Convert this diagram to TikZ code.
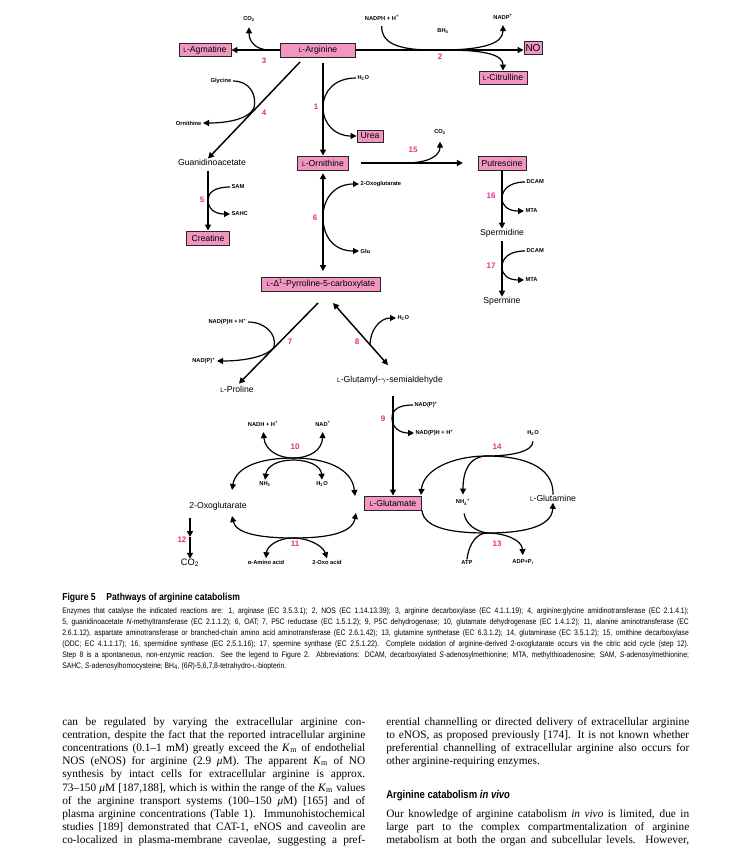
\documentclass[tikz,border=0pt]{standalone}
\usepackage{fontspec}
\setmainfont{Liberation Serif}
\setsansfont{Liberation Sans}
\newfontfamily\capfont[FakeStretch=0.85]{Liberation Sans}
\newfontfamily\headfont[FakeStretch=0.85]{Liberation Sans}
\usepackage{graphicx}
\usetikzlibrary{arrows.meta, positioning}

\definecolor{boxpink}{RGB}{241,150,192}
\definecolor{steppink}{RGB}{233,45,140}
\newcommand{\Ls}{\scalebox{0.75}{L}}
\newcommand{\colline}[1]{\makebox[227.25pt][s]{#1}}
\newcommand{\capline}[1]{\makebox[470pt][s]{#1}}

\begin{document}
\begin{tikzpicture}[x=0.75pt, y=-0.75pt,
  met/.style={draw=black!85, line width=0.7pt, fill=boxpink, inner sep=0pt, minimum height=10.5pt, font=\sffamily\fontsize{6.5}{7}\selectfont},
  cpd/.style={inner sep=0pt, font=\sffamily\fontsize{6.5}{7}\selectfont},
  cof/.style={inner sep=1pt, font=\sffamily\bfseries\fontsize{4.3}{5}\selectfont},
  stepno/.style={inner sep=0pt, text=steppink, font=\sffamily\bfseries\fontsize{6}{7}\selectfont},
  rxn/.style={line width=1.1pt},
  branch/.style={line width=0.9pt},
  fwd/.style={-{Triangle[length=4.5pt,width=4.5pt]}},
  twoway/.style={{Triangle[length=4.5pt,width=4.5pt]}-{Triangle[length=4.5pt,width=4.5pt]}},
  bodytxt/.style={anchor=base west, inner sep=0pt, font=\fontsize{8.5}{10}\selectfont},
  captxt/.style={anchor=base west, inner sep=0pt, font=\capfont\fontsize{6}{7}\selectfont}]
\fill[white] (0,0) rectangle (750,861);
\useasboundingbox (0,0) rectangle (750,861);

% metabolites in boxes
\node[met, minimum width=56.25pt] (arg) at (318,50) {\Ls-Arginine};
\node[met, minimum width=39pt, minimum height=9.75pt] (agm) at (205,50) {\Ls-Agmatine};
\node[met, minimum width=13.5pt, minimum height=9.75pt, font=\sffamily\fontsize{7.5}{8}\selectfont] (no) at (533,48) {NO};
\node[met, minimum width=36pt, minimum height=9.75pt] (cit) at (503,77.5) {\Ls-Citrulline};
\node[met, minimum width=19.5pt, minimum height=9pt] (urea) at (370,136) {Urea};
\node[met, minimum width=38.25pt] (orn) at (323,163) {\Ls-Ornithine};
\node[met, minimum width=36pt] (put) at (502,163) {Putrescine};
\node[met, minimum width=32.25pt] (cre) at (208,238) {Creatine};
\node[met, minimum width=89.25pt] (p5c) at (321,284) {\Ls-Δ\textsuperscript{1}-Pyrroline-5-carboxylate};
\node[met, minimum width=42.75pt] (glu) at (393,503) {\Ls-Glutamate};

% other compounds
\node[cpd] (gaa) at (212,162) {Guanidinoacetate};
\node[cpd] (spd) at (502,233) {Spermidine};
\node[cpd] (spm) at (502,301) {Spermine};
\node[cpd] (pro) at (237,389) {\Ls-Proline};
\node[cpd] (gsa) at (390,380) {\Ls-Glutamyl-$\gamma$-semialdehyde};
\node[cpd] (oxg) at (218,506) {2-Oxoglutarate};
\node[cpd] (gln) at (553,498) {\Ls-Glutamine};
\node[cpd, font=\sffamily\fontsize{7}{8}\selectfont] (co2c) at (190,563) {CO\textsubscript{2}};

% co-substrates
\node[cof] (co2a) at (249,19) {CO\textsubscript{2}};
\node[cof] (nadph) at (382,18) {NADPH + H\textsuperscript{+}};
\node[cof] (nadp) at (503,17) {NADP\textsuperscript{+}};
\node[cof] (bh4) at (443,31) {BH\textsubscript{4}};
\node[cof, anchor=west] (h2oa) at (356,78) {H\textsubscript{2}O};
\node[cof, anchor=east] (gly) at (233,81) {Glycine};
\node[cof, anchor=east] (orni) at (203,123) {Ornithine};
\node[cof] (co2b) at (440,132) {CO\textsubscript{2}};
\node[cof, anchor=west] (sam) at (230,187) {SAM};
\node[cof, anchor=west] (sahc) at (230,214) {SAHC};
\node[cof, anchor=west] (oxga) at (359,184) {2-Oxoglutarate};
\node[cof, anchor=west] (glua) at (359,251) {Glu};
\node[cof, anchor=west] (dcama) at (525,182) {DCAM};
\node[cof, anchor=west] (mtaa) at (524,211) {MTA};
\node[cof, anchor=west] (dcamb) at (525,251) {DCAM};
\node[cof, anchor=west] (mtab) at (524,280) {MTA};
\node[cof, anchor=east] (nadphb) at (248,322) {NAD(P)H + H\textsuperscript{+}};
\node[cof, anchor=east] (nadpb) at (217,361) {NAD(P)\textsuperscript{+}};
\node[cof, anchor=west] (h2ob) at (396,318) {H\textsubscript{2}O};
\node[cof, anchor=west] (nadpc) at (413,405) {NAD(P)\textsuperscript{+}};
\node[cof, anchor=west] (nadphc) at (414,433) {NAD(P)H + H\textsuperscript{+}};
\node[cof] (nadh) at (263,424) {NADH + H\textsuperscript{+}};
\node[cof] (nad) at (323,424) {NAD\textsuperscript{+}};
\node[cof] (nh3) at (265,484) {NH\textsubscript{3}};
\node[cof] (h2oc) at (322,484) {H\textsubscript{2}O};
\node[cof] (aa) at (266,562) {α-Amino acid};
\node[cof] (oxo) at (327,562) {2-Oxo acid};
\node[cof] (h2od) at (533,433) {H\textsubscript{2}O};
\node[cof] (nh4) at (463,502) {NH\textsubscript{4}\textsuperscript{+}};
\node[cof] (atp) at (467,563) {ATP};
\node[cof] (adp) at (523,562) {ADP+P\textsubscript{i}};

% step numbers
\node[stepno] (n1) at (316,107) {1};
\node[stepno] (n2) at (440,57) {2};
\node[stepno] (n3) at (264,61) {3};
\node[stepno] (n4) at (264,113) {4};
\node[stepno] (n5) at (202,200) {5};
\node[stepno] (n6) at (315,218) {6};
\node[stepno] (n7) at (290,342) {7};
\node[stepno] (n8) at (357,342) {8};
\node[stepno] (n9) at (383,419) {9};
\node[stepno] (n10) at (295,447) {10};
\node[stepno] (n11) at (295,544) {11};
\node[stepno] (n12) at (182,540) {12};
\node[stepno] (n13) at (497,544) {13};
\node[stepno] (n14) at (497,447) {14};
\node[stepno] (n15) at (413,150) {15};
\node[stepno] (n16) at (491,196) {16};
\node[stepno] (n17) at (491,266) {17};

% free ends
\coordinate (c4) at (300,62);
\coordinate (c7) at (318,303);
\coordinate (c8) at (333,303);
\coordinate (c8b) at (388,365);
\coordinate (c10a) at (232,490);
\coordinate (c10b) at (355,496);
\coordinate (c11a) at (232,516);
\coordinate (c11b) at (356,513);
\coordinate (c12) at (190,518);
\coordinate (c12m) at (190,537);
\coordinate (glutop) at (421,495);

% 3
\draw[rxn, fwd] (arg.west) -- (agm.east);
\draw[branch, fwd, shorten >=3pt] (270,50) .. controls (256,50) and (249,42) .. (co2a.south);
% 2
\draw[rxn, fwd] (arg.east) -- (no.west |- arg.east);
\draw[branch, shorten <=3pt] (nadph.south) .. controls (381,42) and (396,50) .. (432,50);
\draw[branch, fwd, shorten >=3pt] (440,50) .. controls (482,50) and (503,44) .. (nadp.south);
\draw[branch, fwd] (445,50) .. controls (486,50) and (503,55) .. (cit.north);
% 1
\draw[rxn, fwd, shorten <=4pt] (arg.south -| orn.north) -- (orn.north);
\draw[branch, fwd] (h2oa.west) .. controls (334,78) and (323,92) .. (323,107) .. controls (323,124) and (335,136) .. (urea.west);
% 4
\draw[rxn, fwd] (c4) -- ([xshift=-3pt]gaa.north);
\draw[branch, fwd] (gly.east) .. controls (250,81) and (257,95) .. (254,108) .. controls (248,120) and (225,123) .. (orni.east);
% 5
\draw[rxn, fwd, shorten <=4pt] (gaa.south -| cre.north) -- (cre.north);
\draw[branch, fwd] (sam.west) .. controls (214,187) and (208,193) .. (208,200) .. controls (208,208) and (214,214) .. (sahc.west);
% 6
\draw[rxn, twoway, shorten <=2pt, shorten >=4pt] (orn.south) -- (p5c.north -| orn.south);
\draw[branch, twoway] (oxga.west) .. controls (335,184) and (323,198) .. (323,217) .. controls (323,238) and (335,251) .. (glua.west);
% 15
\draw[rxn, fwd, shorten <=9pt, shorten >=11pt] (orn.east) -- (put.west);
\draw[branch, fwd, shorten >=4pt] (405,163) .. controls (430,163) and (440,155) .. (co2b.south);
% 16, 17
\draw[rxn, fwd] (put.south) -- (spd.north);
\draw[branch, fwd] (dcama.west) .. controls (508,182) and (502,191) .. (502,198) .. controls (502,206) and (508,211) .. (mtaa.west);
\draw[rxn, fwd, shorten <=3pt] (spd.south) -- (spm.north);
\draw[branch, fwd] (dcamb.west) .. controls (508,251) and (502,259) .. (502,267) .. controls (502,275) and (508,280) .. (mtab.west);
% 7
\draw[rxn, fwd, shorten >=2pt] (c7) -- (pro.north);
\draw[branch, fwd] (nadphb.east) .. controls (265,322) and (277,334) .. (274,347) .. controls (266,358) and (240,361) .. (nadpb.east);
% 8
\draw[rxn, twoway] (c8) -- (c8b);
\draw[branch, fwd] (370,345) .. controls (370,330) and (380,318) .. (h2ob.west);
% 9
\draw[rxn, fwd, shorten <=9pt] (gsa.south -| glu.north) -- (glu.north);
\draw[branch, fwd] (nadpc.west) .. controls (398,405) and (392,410) .. (392,418) .. controls (392,427) and (399,433) .. (nadphc.west);
% 10
\draw[branch, twoway] (c10a) .. controls (236,466) and (262,458) .. (293,458) .. controls (325,458) and (352,468) .. (c10b);
\draw[branch, twoway, shorten <=3pt, shorten >=3pt] (nadh.south) .. controls (265,450) and (278,458) .. (293,458) .. controls (310,458) and (322,450) .. (nad.south);
\draw[branch, twoway] (nh3.north) .. controls (267,466) and (278,460) .. (293,460) .. controls (309,460) and (321,466) .. (h2oc.north);
% 11
\draw[branch, twoway] (c11a) .. controls (236,534) and (262,538) .. (293,538) .. controls (325,538) and (352,534) .. (c11b);
\draw[branch, twoway] (aa.north) .. controls (267,546) and (278,538) .. (293,538) .. controls (309,538) and (323,546) .. (oxo.north);
% 12
\draw[rxn, fwd] (c12) -- (c12m);
\draw[rxn, fwd] (c12m) -- (co2c.north);
% 14
\draw[branch, fwd] (gln.north) .. controls (554,465) and (520,456) .. (487,456) .. controls (452,456) and (423,470) .. (glutop);
\draw[branch, fwd, shorten <=3pt, shorten >=2pt] (h2od.south) .. controls (533,452) and (510,456) .. (487,456) .. controls (470,456) and (463,470) .. (nh4.north);
% 13
\draw[branch, fwd, shorten >=1pt] (glu.south east) .. controls (424,530) and (458,533) .. (487,533) .. controls (520,533) and (552,528) .. (gln.south);
\draw[branch, shorten <=5pt] (nh4.south) .. controls (466,525) and (476,531) .. (487,533);
\draw[branch, fwd, shorten >=2pt] (atp.north) .. controls (469,542) and (478,533) .. (487,533) .. controls (505,533) and (522,540) .. (adp.north);

% legend
\node[anchor=base west, inner sep=0pt, font=\headfont\bfseries\fontsize{7.6}{8}\selectfont] (figttl) at (62,600) {Figure 5\hspace{8pt}Pathways of arginine catabolism};
\node[captxt] (cap1) at (62,613) {\capline{Enzymes that catalyse the indicated reactions are: 1, arginase (EC 3.5.3.1); 2, NOS (EC 1.14.13.39); 3, arginine decarboxylase (EC 4.1.1.19); 4, arginine:glycine amidinotransferase (EC 2.1.4.1);}};
\node[captxt] (cap2) at (62,624) {\capline{5, guanidinoacetate \textit{N}-methyltransferase (EC 2.1.1.2); 6, OAT; 7, P5C reductase (EC 1.5.1.2); 9, P5C dehydrogenase; 10, glutamate dehydrogenase (EC 1.4.1.2); 11, alanine aminotransferase (EC}};
\node[captxt] (cap3) at (62,635) {\capline{2.6.1.12), aspartate aminotransferase or branched-chain amino acid aminotransferase (EC 2.6.1.42); 13, glutamine synthetase (EC 6.3.1.2); 14, glutaminase (EC 3.5.1.2); 15, ornithine decarboxylase}};
\node[captxt] (cap4) at (62,646) {\capline{(ODC; EC 4.1.1.17); 16, spermidine synthase (EC 2.5.1.16); 17, spermine synthase (EC 2.5.1.22). Complete oxidation of arginine-derived 2-oxoglutarate occurs via the citric acid cycle (step 12).}};
\node[captxt] (cap5) at (62,657) {\capline{Step 8 is a spontaneous, non-enzymic reaction. See the legend to Figure 2. Abbreviations: DCAM, decarboxylated \textit{S}-adenosylmethionine; MTA, methylthioadenosine; SAM, \textit{S}-adenosylmethionine;}};
\node[captxt] (cap6) at (62,668) {SAHC, \textit{S}-adenosylhomocysteine; BH\textsubscript{4}, (6\textit{R})-5,6,7,8-tetrahydro-\Ls-biopterin.};

% left column
\node[bodytxt] (lc1) at (62,725) {\colline{can be regulated by varying the extracellular arginine con-}};
\node[bodytxt] (lc2) at (62,738.2) {\colline{centration, despite the fact that the reported intracellular arginine}};
\node[bodytxt] (lc3) at (62,751.4) {\colline{concentrations (0.1–1 mM) greatly exceed the \textit{K}\textsubscript{m} of endothelial}};
\node[bodytxt] (lc4) at (62,764.6) {\colline{NOS (eNOS) for arginine (2.9 \textit{μ}M). The apparent \textit{K}\textsubscript{m} of NO}};
\node[bodytxt] (lc5) at (62,777.8) {\colline{synthesis by intact cells for extracellular arginine is approx.}};
\node[bodytxt] (lc6) at (62,791) {\colline{73–150 \textit{μ}M [187,188], which is within the range of the \textit{K}\textsubscript{m} values}};
\node[bodytxt] (lc7) at (62,804.2) {\colline{of the arginine transport systems (100–150 \textit{μ}M) [165] and of}};
\node[bodytxt] (lc8) at (62,817.4) {\colline{plasma arginine concentrations (Table 1). Immunohistochemical}};
\node[bodytxt] (lc9) at (62,830.6) {\colline{studies [189] demonstrated that CAT-1, eNOS and caveolin are}};
\node[bodytxt] (lc10) at (62,843.8) {\colline{co-localized in plasma-membrane caveolae, suggesting a pref-}};

% right column
\node[bodytxt] (rc1) at (386,725) {\colline{erential channelling or directed delivery of extracellular arginine}};
\node[bodytxt] (rc2) at (386,738.2) {\colline{to eNOS, as proposed previously [174]. It is not known whether}};
\node[bodytxt] (rc3) at (386,751.4) {\colline{preferential channelling of extracellular arginine also occurs for}};
\node[bodytxt] (rc4) at (386,764.6) {other arginine-requiring enzymes.};
\node[anchor=base west, inner sep=0pt, font=\headfont\bfseries\fontsize{8.4}{10}\selectfont] (rhead) at (386,798.5) {Arginine catabolism \textit{in vivo}};
\node[bodytxt] (rc5) at (386,817.4) {\colline{Our knowledge of arginine catabolism \textit{in vivo} is limited, due in}};
\node[bodytxt] (rc6) at (386,830.6) {\colline{large part to the complex compartmentalization of arginine}};
\node[bodytxt] (rc7) at (386,843.8) {\colline{metabolism at both the organ and subcellular levels. However,}};
\end{tikzpicture}
\end{document}
